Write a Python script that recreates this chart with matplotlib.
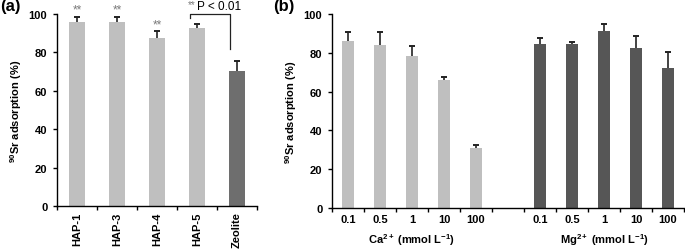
import matplotlib.pyplot as plt
import numpy as np

plt.rcParams['font.family'] = ['Liberation Sans', 'DejaVu Sans']
plt.rcParams['font.weight'] = 'bold'
plt.rcParams['mathtext.fontset'] = 'custom'
plt.rcParams['mathtext.rm'] = 'Liberation Sans:bold'
plt.rcParams['mathtext.it'] = 'Liberation Sans:bold'
plt.rcParams['mathtext.bf'] = 'Liberation Sans:bold'

# ---- panel (a) data ----
samples = ["HAP-1", "HAP-3", "HAP-4", "HAP-5", "Zeolite"]
ads_a = [96.0, 96.0, 87.7, 92.7, 70.2]
err_a = [2.6, 2.6, 3.4, 2.3, 5.3]
stars_a = ["**", "**", "**", "", ""]

# ---- panel (b) data ----
conc = ["0.1", "0.5", "1", "10", "100"]
ca_ads = [86.2, 84.2, 78.2, 66.0, 30.8]
ca_err = [4.3, 6.3, 5.3, 1.7, 1.5]
mg_ads = [84.4, 84.4, 91.4, 82.3, 72.3]
mg_err = [3.2, 1.0, 3.4, 6.2, 8.3]

LIGHT = "#bfbfbf"
ZEO = "#6e6e6e"
DARK = "#565656"
FS = 8

fig = plt.figure(figsize=(6.85, 2.53), dpi=100)
ax1 = fig.add_axes([57/685, 46/253, 200/685, 192/253])
ax2 = fig.add_axes([332/685, 44/253, 352/685, 194/253])


def style(ax, n):
    ax.set_xlim(-0.5, n - 0.5)
    ax.set_ylim(0, 100)
    ax.set_yticks(range(0, 101, 20))
    ax.spines['top'].set_visible(False)
    ax.spines['right'].set_visible(False)
    for s in ('left', 'bottom'):
        ax.spines[s].set_linewidth(1.0)
    ax.set_xticks(np.arange(-0.5, n), minor=True)
    ax.tick_params(axis='x', which='major', length=0, labelsize=FS, pad=4)
    ax.tick_params(axis='x', which='minor', length=3, direction='out', width=1)
    ax.tick_params(axis='y', length=3, width=1, labelsize=FS, pad=4)
    for lab in ax.get_xticklabels() + ax.get_yticklabels():
        lab.set_fontweight('bold')
    ax.set_ylabel(r"$^{90}$Sr adsorption (%)", fontsize=FS, fontweight='bold',
                  labelpad=3)


def upper_err(ax, x, v, e):
    top = np.array(v) + np.array(e)
    ax.vlines(x, v, top, color='#222222', lw=1.2)
    ax.plot(x, top, ls='none', marker='_', ms=4.5, mew=1.4, color='#222222')


# ---- (a) ----
xa = np.arange(len(samples))
cols = [LIGHT] * 4 + [ZEO]
ax1.bar(xa, ads_a, width=0.4, color=cols)
upper_err(ax1, xa, ads_a, err_a)
ax1.set_xticks(xa)
ax1.set_xticklabels(samples, rotation=90)
style(ax1, len(samples))
for x, v, e, s in zip(xa, ads_a, err_a, stars_a):
    if s:
        ax1.text(x, v + e + 0.5, s, ha='center', va='bottom', fontsize=8.5,
                 color='#7a7a7a', fontweight='normal')
# significance bracket HAP-5 vs Zeolite
ax1.plot([2.83, 2.83, 3.83, 3.83], [98, 100, 100, 81.8], color='#222222',
         lw=0.9, clip_on=False)
ax1.text(2.78, 102.5, "**", fontsize=7, color='#7a7a7a', fontweight='normal',
         ha='left', va='bottom')
ax1.text(3.0, 100.8, "P < 0.01", fontsize=8.5, color='black',
         fontweight='normal', ha='left', va='bottom')
fig.text(0, 246/253, "(a)", fontsize=12, fontweight='bold', va='center')

# ---- (b) ----
labels_b = conc + [""] + conc
xb = np.arange(len(labels_b))
ax2.bar(xb[:5], ca_ads, width=0.39, color=LIGHT)
ax2.bar(xb[6:], mg_ads, width=0.39, color=DARK)
upper_err(ax2, xb[:5], ca_ads, ca_err)
upper_err(ax2, xb[6:], mg_ads, mg_err)
ax2.set_xticks(xb)
ax2.set_xticklabels(labels_b)
style(ax2, len(labels_b))
ax2.text(2, -0.12, r"Ca$^{2+}$ (mmol L$^{-1}$)", transform=ax2.get_xaxis_transform(),
         ha='center', va='top', fontsize=FS, fontweight='bold')
ax2.text(8, -0.12, r"Mg$^{2+}$ (mmol L$^{-1}$)", transform=ax2.get_xaxis_transform(),
         ha='center', va='top', fontsize=FS, fontweight='bold')
fig.text(273/685, 246/253, "(b)", fontsize=12, fontweight='bold', va='center')

fig.savefig("out.png", dpi=100, facecolor="white")
